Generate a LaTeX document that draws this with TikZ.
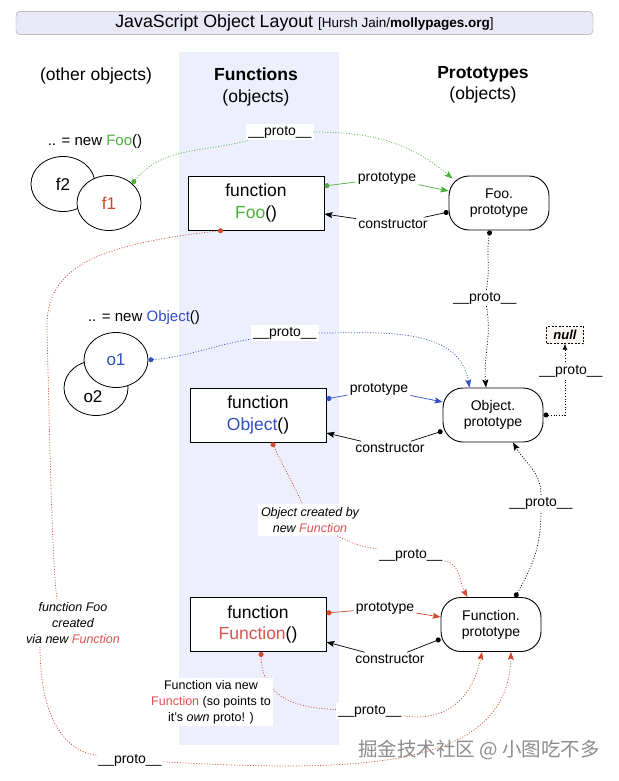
\documentclass[tikz,border=0pt]{standalone}
\usepackage{fontspec}
\setmainfont{Liberation Sans}
\newfontfamily\cjkfont{Noto Sans CJK SC}
\usetikzlibrary{arrows.meta,shapes.geometric}

\definecolor{foogreen}{HTML}{4DAF3C}
\definecolor{objblue}{HTML}{2F4FC2}
\definecolor{fnred}{HTML}{D9534F}
\definecolor{dotred}{HTML}{D0492A}
\definecolor{colbg}{HTML}{EDF0FC}
\definecolor{titlebg}{HTML}{E8E8F7}
\definecolor{nullbg}{HTML}{FBF5F3}
\newcommand{\fsz}[2]{\fontsize{#1pt}{#2pt}\selectfont}

\begin{document}
\begin{tikzpicture}[x=1pt, y=-1pt,
    head/.style={font=\fsz{17.5}{21.5}, align=center},
    fnbox/.style={draw, line width=0.9pt, fill=white, minimum width=136pt, minimum height=54pt, align=center, font=\fsz{17.5}{21.5}},
    protobox/.style={draw, line width=0.9pt, fill=white, rounded corners=20pt, minimum width=100pt, minimum height=54pt, align=center, font=\fsz{14}{16}},
    inst/.style={draw, ellipse, line width=0.8pt, fill=white, minimum width=64pt, minimum height=55pt, font=\fsz{17}{20}},
    lbl/.style={fill=white, inner sep=2pt, font=\fsz{14}{16}},
    note/.style={fill=white, inner sep=3pt, align=center, font=\fsz{12.5}{16}},
    wire/.style={line width=0.7pt},
    dotline/.style={dash pattern=on 1pt off 1.7pt},
    dotstart/.style={wire, {Circle[length=5pt]}-},
    tiphead/.style={wire, -{Stealth[length=8pt,width=6pt,inset=1.5pt]}},
    link/.style={wire, {Circle[length=5pt]}-{Stealth[length=8pt,width=6pt,inset=1.5pt]}}]

    \useasboundingbox (0,0) rectangle (618,781);

    % column and title
    \fill[colbg] (179,52) rectangle (339,745);
    \node[draw=black!35, fill=titlebg, rounded corners=4pt, minimum width=577pt, minimum height=21pt] (title) at (304.5,23)
        {\fsz{17.8}{19}JavaScript Object Layout \fsz{13.5}{15}[Hursh Jain/\textbf{mollypages.org}]};

    \node[head] (hOther) at (96,76) {(other objects)};
    \node[head] (hFn) at (256,87) {\textbf{Functions}\\(objects)};
    \node[head] (hProto) at (483,85) {\textbf{Prototypes}\\(objects)};

    % instances
    \node[font=\fsz{15}{18}] (newFoo) at (95,142) {.. = new \textcolor{foogreen}{Foo}()};
    \node[inst] (f2) at (63,184) {f2};
    \node[inst, text=dotred] (f1) at (109,203) {f1};
    \node[font=\fsz{15}{18}] (newObj) at (144,318) {.. = new \textcolor{objblue}{Object}()};
    \node[inst, label={[font=\fsz{17}{20}, xshift=-3pt, yshift=-9pt]center:o2}] (o2) at (96,388) {};
    \node[inst, text=objblue] (o1) at (116,360) {o1};

    % functions
    \node[fnbox] (fooF) at (256,203) {function\\\textcolor{foogreen}{Foo}()};
    \node[fnbox] (objF) at (258,415) {function\\\textcolor{objblue}{Object}()};
    \node[fnbox] (fnF) at (258,624.5) {function\\\textcolor{fnred}{Function}()};

    % prototypes
    \node[protobox] (fooP) at (499,203) {Foo.\\prototype};
    \node[protobox] (objP) at (493,415) {Object.\\prototype};
    \node[protobox] (fnP) at (491,624.5) {Function.\\prototype};
    \node[draw, dash pattern=on 2pt off 1.5pt, fill=nullbg, inner sep=1pt, minimum width=37pt, minimum height=17pt, font=\fsz{13}{15}\bfseries\itshape] (nul) at (565,335) {null};

    % labels
    \node[lbl] (fooProto) at (280,132) {\_\_proto\_\_};
    \node[lbl] (fooPt) at (387,178) {prototype};
    \node[lbl] (fooCt) at (393,224) {constructor};
    \node[lbl] (fooUp) at (485,298) {\_\_proto\_\_};
    \node[lbl] (objProto) at (285,333) {\_\_proto\_\_};
    \node[lbl] (objPt) at (379,389) {prototype};
    \node[lbl] (objCt) at (390,448) {constructor};
    \node[note, font=\fsz{12.5}{16}\itshape] (objNote) at (310,520) {Object created by\\new \textcolor{fnred}{Function}};
    \node[lbl] (objFn) at (411,555) {\_\_proto\_\_};
    \node[lbl] (fnUp) at (541,503) {\_\_proto\_\_};
    \node[lbl] (fnPt) at (385,608) {prototype};
    \node[lbl] (fnCt) at (390,659) {constructor};
    \node[lbl] (fnFn) at (370,711) {\_\_proto\_\_};
    \node[lbl] (fooFn) at (130,760) {\_\_proto\_\_};
    \node[note, fill=none, font=\fsz{12.5}{16}\itshape] (fooNote) at (73,623) {function Foo\\created\\via new \textcolor{fnred}{Function}};

    % Foo row
    \draw[dotstart, dotline, foogreen] (f1.40) to[out=50,in=195] (fooProto);
    \draw[tiphead, dotline, foogreen] (fooProto) to[out=0,in=140] ([xshift=4pt,yshift=-3pt]fooP.north west);
    \draw[dotstart, foogreen] ([yshift=17pt]fooF.east) -- (fooPt);
    \draw[tiphead, foogreen] (fooPt) -- ([yshift=12pt]fooP.west);
    \draw[dotstart] ([yshift=-9pt]fooP.west) -- (fooCt);
    \draw[tiphead] (fooCt) -- ([yshift=-11pt]fooF.east);
    \draw[dotstart, dotline] ([xshift=-9pt]fooP.south) to[out=-100,in=80] (fooUp);
    \draw[tiphead, dotline] (fooUp) to[out=-80,in=95] ([xshift=-7pt]objP.north);

    % Object row
    \draw[dotstart, dotline, objblue] (o1.east) to[out=5,in=190] (objProto);
    \draw[tiphead, dotline, objblue] (objProto) to[out=0,in=100] ([xshift=27pt]objP.north west);
    \draw[dotstart, objblue] ([yshift=16pt]objF.east) -- (objPt);
    \draw[tiphead, objblue] (objPt) -- ([yshift=13pt]objP.west);
    \draw[dotstart] ([yshift=-16pt]objP.west) -- (objCt);
    \draw[tiphead] (objCt) -- ([yshift=-18pt]objF.east);
    \coordinate (nulTurn) at (565,415);
    \draw[wire, dotline, {Circle[length=5pt]}-{Latex[length=6pt,width=5pt]}] (objP.east) -- (nulTurn) -- (nul);
    \node[lbl] (nulProto) at (571,371) {\_\_proto\_\_};
    \draw[dotstart, dotline, dotred] ([xshift=14pt]objF.south) to[out=-65,in=115] (objNote);
    \draw[wire, dotline, dotred] (objNote) to[out=-30,in=170] (objFn);
    \draw[tiphead, dotline, dotred] (objFn) to[out=-10,in=120] ([xshift=27pt]fnP.north west);

    % Function row
    \draw[dotstart, dotline] ([xshift=24pt]fnP.north) to[out=60,in=-90] (fnUp);
    \draw[tiphead, dotline] (fnUp) to[out=90,in=-60] ([xshift=20pt]objP.south);
    \draw[dotstart, dotred] ([yshift=11.5pt]fnF.east) -- (fnPt);
    \draw[tiphead, dotred] (fnPt) -- ([yshift=7.5pt]fnP.west);
    \draw[dotstart] ([yshift=-14.5pt]fnP.west) -- (fnCt);
    \draw[tiphead] (fnCt) -- ([yshift=-17.5pt]fnF.east);
    \draw[dotstart, dotline, dotred] ([xshift=3pt]fnF.south) .. controls (262,700) and (300,708) .. (fnFn);
    \draw[tiphead, dotline, dotred] (fnFn) .. controls (445,722) and (472,700) .. ([xshift=-9pt]fnP.south);
    \node[note, inner sep=2pt] (fnNote) at (211,702) {Function via new\\\textcolor{fnred}{Function} (so points to\\it's \textit{own} proto! )};

    % Foo is made by Function
    \draw[dotstart, dotline, dotred] ([xshift=-33pt]fooF.south) .. controls (90,245) and (45,270) .. (47,330) .. controls (50,450) and (52,560) .. ([xshift=-16pt]fooNote.north);
    \draw[wire, dotline, dotred] ([xshift=-33pt]fooNote.south) .. controls (40,710) and (60,750) .. (fooFn);
    \draw[tiphead, dotline, dotred] (fooFn) .. controls (350,772) and (508,772) .. ([xshift=20pt]fnP.south);

    \node[text=black!45, font=\cjkfont\fsz{19.5}{22}] (mark) at (479,750) {掘金技术社区 @ 小图吃不多};
\end{tikzpicture}
\end{document}
